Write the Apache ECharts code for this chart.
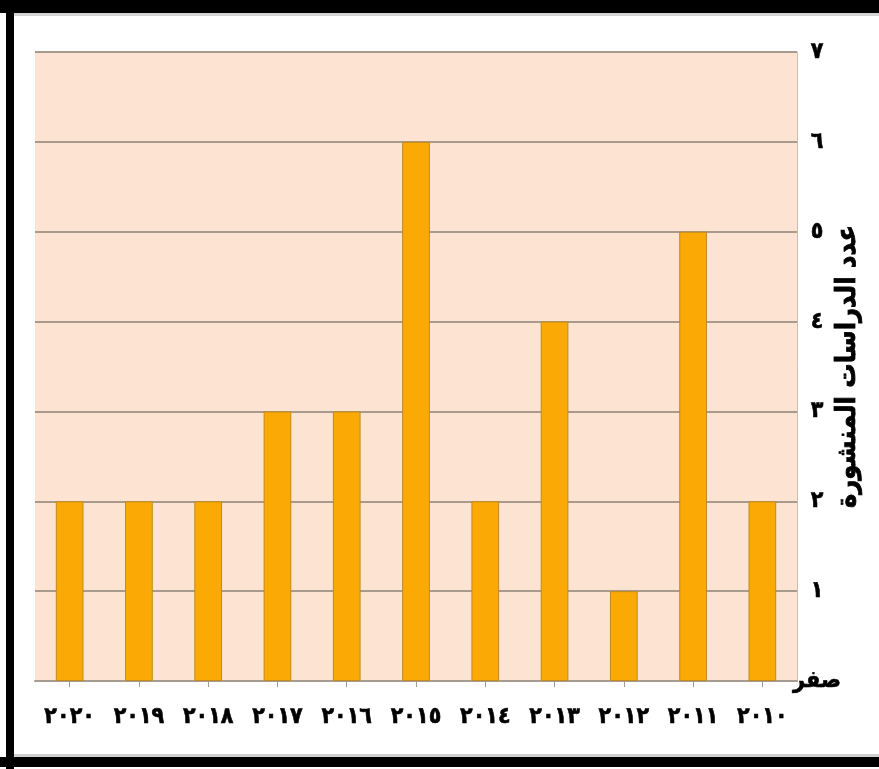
<!DOCTYPE html>
<html>
<head>
<meta charset="utf-8">
<script src="https://cdn.jsdelivr.net/npm/echarts@6/dist/echarts.min.js"></script>
<style>
  html, body { margin: 0; padding: 0; background: #ffffff; }
  #chart { width: 879px; height: 769px; }
</style>
</head>
<body>
<div id="chart"></div>
<script>
// Publication years (Arabic-Indic digits), oldest first; the axis is drawn right-to-left
const years = ['٢٠١٠', '٢٠١١', '٢٠١٢', '٢٠١٣', '٢٠١٤', '٢٠١٥', '٢٠١٦', '٢٠١٧', '٢٠١٨', '٢٠١٩', '٢٠٢٠'];
// Number of published studies per year
const studies = [2, 5, 1, 4, 2, 6, 3, 3, 2, 2, 2];
// Value-axis tick labels, indexed by value
const yTickLabels = ['صفر', '١', '٢', '٣', '٤', '٥', '٦', '٧'];
const yAxisTitle = 'عدد الدراسات المنشورة';

const FONT = '"DejaVu Sans Condensed", "DejaVu Sans", sans-serif';
const W = 879, H = 769;

const chart = echarts.init(document.getElementById('chart'), null, { renderer: 'canvas' });

chart.setOption({
  backgroundColor: '#ffffff',
  animation: false,
  grid: {
    left: 35, right: 82, top: 52, bottom: 88,
    outerBoundsMode: 'none',
    containLabel: false,
    show: true, backgroundColor: '#fde4d2', borderWidth: 0
  },
  graphic: [
    // heavy black frame (top, left, bottom)
    { type: 'rect', shape: { x: 0, y: 0, width: W, height: 13 }, style: { fill: '#000000' }, silent: true },
    { type: 'rect', shape: { x: 6, y: 0, width: 8, height: H }, style: { fill: '#000000' }, silent: true },
    { type: 'rect', shape: { x: 0, y: 757, width: W, height: 10 }, style: { fill: '#000000' }, silent: true },
    // thin grey rules just inside the frame
    { type: 'rect', shape: { x: 14, y: 13, width: W - 14, height: 3 }, style: { fill: '#d4d4d4' }, silent: true },
    { type: 'rect', shape: { x: 14, y: 754, width: W - 14, height: 3 }, style: { fill: '#d0d0d0' }, silent: true }
  ],
  xAxis: {
    type: 'category',
    data: years,
    inverse: true,
    boundaryGap: true,
    axisLine: { show: true, lineStyle: { color: '#a89c90', width: 2 } },
    axisTick: { show: true, alignWithLabel: true, length: 6, lineStyle: { color: '#a89c90', width: 1 } },
    axisLabel: {
      margin: 25,
      fontFamily: FONT,
      fontWeight: 'bold',
      fontSize: 23,
      color: '#000000',
      textBorderColor: '#000000',
      textBorderWidth: 0.6
    },
    splitLine: { show: false }
  },
  yAxis: {
    type: 'value',
    position: 'right',
    min: 0,
    max: 7,
    interval: 1,
    axisLine: { show: true, lineStyle: { color: '#cdbfb0', width: 1 } },
    axisTick: { show: false },
    axisLabel: {
      margin: 20,
      align: 'center',
      fontFamily: FONT,
      fontWeight: 'bold',
      fontSize: 23,
      color: '#000000',
      textBorderColor: '#000000',
      textBorderWidth: 0.6,
      formatter: function (v) { return yTickLabels[v]; }
    },
    splitLine: { show: true, lineStyle: { color: '#a89a8c', width: 2 } },
    name: yAxisTitle,
    nameLocation: 'middle',
    nameRotate: 90,
    nameGap: 37,
    nameMoveOverlap: false,
    nameTextStyle: {
      fontFamily: FONT,
      fontWeight: 'bold',
      fontSize: 27,
      color: '#000000',
      textBorderColor: '#000000',
      textBorderWidth: 0.8
    }
  },
  series: [{
    type: 'bar',
    data: studies,
    barWidth: '40%',
    itemStyle: { color: '#fba905', borderColor: '#c08a1c', borderWidth: 1 }
  }]
});
</script>
</body>
</html>
